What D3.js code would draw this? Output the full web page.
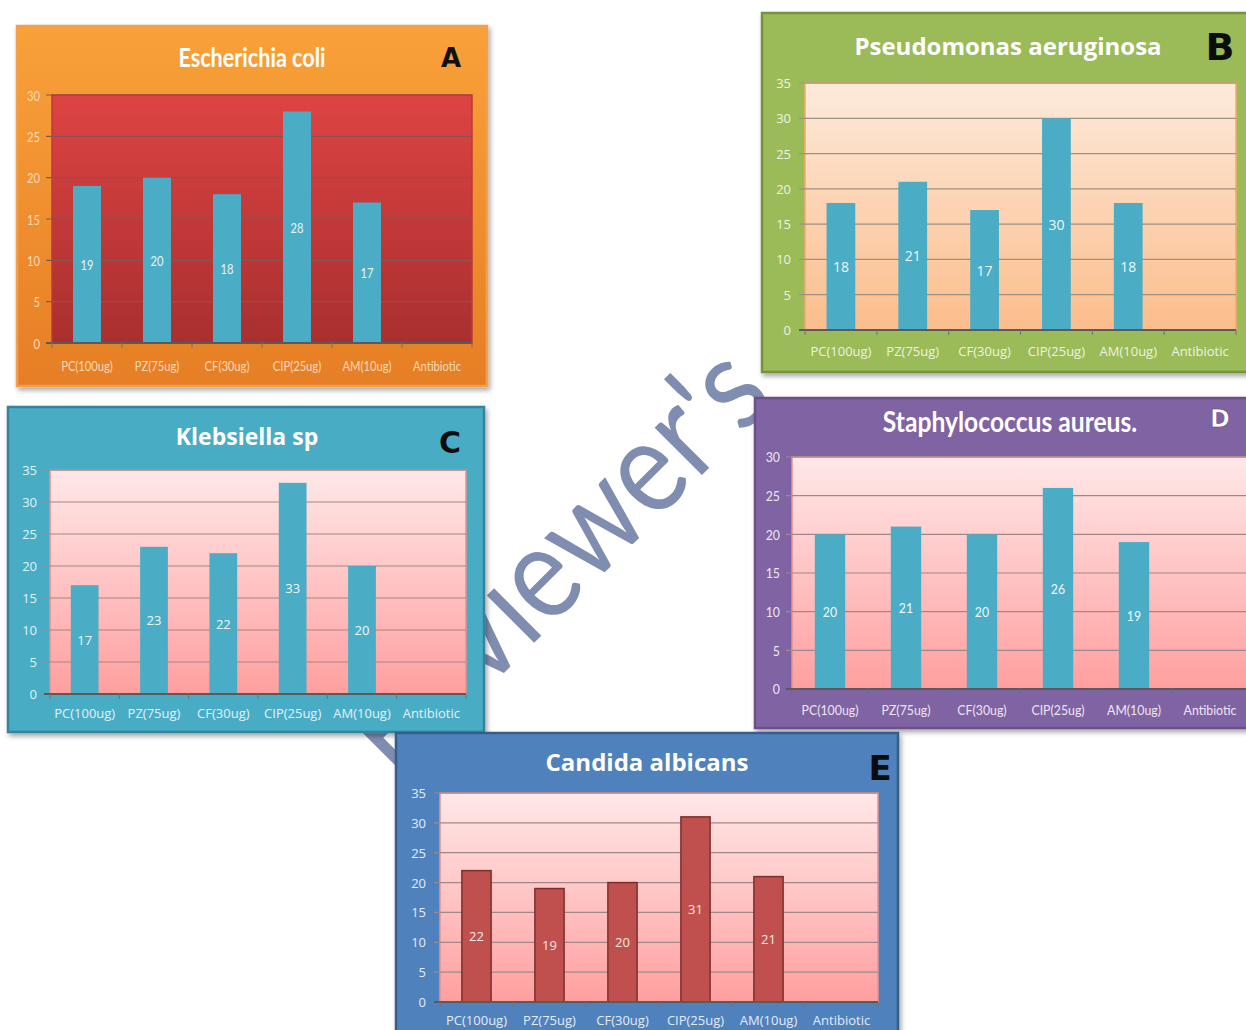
<!DOCTYPE html>
<html lang="en">
<head>
    <meta charset="UTF-8">
    <title>Antibiotic sensitivity</title>
    <script src="https://cdn.jsdelivr.net/npm/d3@7/dist/d3.min.js"></script>
    <style>
        body { margin: 0; background: #fff; }
    </style>
</head>
<body>
<script>
    // 数据
    var categories = ["PC(100ug)", "PZ(75ug)", "CF(30ug)", "CIP(25ug)", "AM(10ug)", "Antibiotic"];
    var ecoliValues = [19, 20, 18, 28, 17, null];
    var pseudoValues = [18, 21, 17, 30, 18, null];
    var klebValues = [17, 23, 22, 33, 20, null];
    var staphValues = [20, 21, 20, 26, 19, null];
    var candidaValues = [22, 19, 20, 31, 21, null];
    var ticks30 = [0, 5, 10, 15, 20, 25, 30];
    var ticks35 = [0, 5, 10, 15, 20, 25, 30, 35];
    var titles = ["Escherichia coli", "Pseudomonas aeruginosa", "Klebsiella sp", "Staphylococcus aureus.", "Candida albicans"];
    var letters = ["A", "B", "C", "D", "E"];

    var width = 1246;
    var height = 1030;
    var svg = d3.select("body")
        .append("svg")
        .attr("width", width)
        .attr("height", height)
        .style("font-family", "Lato, sans-serif");

    var defs = svg.append("defs");
    var shadow = defs.append("filter").attr("id", "shadow")
        .attr("x", "-5%").attr("y", "-5%").attr("width", "115%").attr("height", "115%");
    shadow.append("feDropShadow")
        .attr("dx", 2).attr("dy", 3).attr("stdDeviation", 2.5)
        .attr("flood-color", "#000").attr("flood-opacity", 0.35);

    function addGradient(id, top, bottom) {
        var g = defs.append("linearGradient").attr("id", id)
            .attr("x1", 0).attr("y1", 0).attr("x2", 0).attr("y2", 1);
        g.append("stop").attr("offset", "0%").attr("stop-color", top);
        g.append("stop").attr("offset", "100%").attr("stop-color", bottom);
    }
    addGradient("bgA", "#f9a139", "#e67e26");
    addGradient("plotA", "#de4343", "#a92f2f");
    addGradient("plotB", "#fdeadb", "#fbbd8c");
    addGradient("plotPink", "#ffe8e8", "#ff9f9f");

    // 水印 (drawn first, panels cover it)
    svg.append("text")
        .attr("transform", "translate(396,781) rotate(-45) scale(0.87,1)")
        .style("font-family", "Lato, sans-serif")
        .style("font-size", "132px")
        .style("fill", "#7f8db0")
        .text("Reviewer's");

    var sans = "'Open Sans', sans-serif";
    var narrow = "Lato, sans-serif";

    // 面板配置
    var panels = [
        { values: ecoliValues, ticks: ticks30, max: 30, title: titles[0], letter: letters[0],
          box: [17, 26, 470, 360], boxFill: "url(#bgA)", boxStroke: "#f0a050",
          plot: [52, 95, 420, 248], plotFill: "url(#plotA)", plotStroke: "#c03838",
          grid: "#8f5050", bar: "#4aacc5", barStroke: "none",
          labelColor: "#fcd9b6", valueColor: "#e8f4f8", sx: 0.8, font: narrow,
          titleX: 252, titleY: 57, titleSize: 27,
          letterX: 451, letterY: 58, letterSize: 26, letterColor: "#111",
          tickX: 40, catY: 365, fontSize: 14, valueSize: 14 },
        { values: pseudoValues, ticks: ticks35, max: 35, title: titles[1], letter: letters[1],
          box: [762, 13, 496, 359], boxFill: "#9bbb59", boxStroke: "#76923c",
          plot: [805, 83, 431, 247], plotFill: "url(#plotB)", plotStroke: "#f6a96b",
          grid: "#a09080", bar: "#4aacc5", barStroke: "none",
          labelColor: "#eef3e2", valueColor: "#eef8fb", sx: 1, font: sans,
          titleX: 1008, titleY: 45, titleSize: 24,
          letterX: 1220, letterY: 47, letterSize: 38, letterColor: "#0c0c0c",
          tickX: 791, catY: 351, fontSize: 13, valueSize: 14 },
        { values: klebValues, ticks: ticks35, max: 35, title: titles[2], letter: letters[2],
          box: [8, 407, 476, 325], boxFill: "#4aacc5", boxStroke: "#31859c",
          plot: [50, 470, 416, 224], plotFill: "url(#plotPink)", plotStroke: "#e89090",
          grid: "#a08888", bar: "#4aacc5", barStroke: "none",
          labelColor: "#e2f2f7", valueColor: "#eef8fb", sx: 1, font: sans,
          titleX: 247, titleY: 436, titleSize: 23,
          letterX: 450, letterY: 442, letterSize: 30, letterColor: "#0c0c0c",
          tickX: 37, catY: 713, fontSize: 13, valueSize: 13 },
        { values: staphValues, ticks: ticks30, max: 30, title: titles[3], letter: letters[3],
          box: [755, 398, 497, 330], boxFill: "#8064a2", boxStroke: "#6a5088",
          plot: [792, 457, 456, 232], plotFill: "url(#plotPink)", plotStroke: "#e89090",
          grid: "#a08888", bar: "#4aacc5", barStroke: "none",
          labelColor: "#ece6f3", valueColor: "#eef8fb", sx: 0.88, font: narrow,
          titleX: 1010, titleY: 421, titleSize: 28,
          letterX: 1220, letterY: 419, letterSize: 24, letterColor: "#fff",
          tickX: 780, catY: 710, fontSize: 14, valueSize: 14 },
        { values: candidaValues, ticks: ticks35, max: 35, title: titles[4], letter: letters[4],
          box: [396, 733, 502, 300], boxFill: "#4f81bd", boxStroke: "#385d8a",
          plot: [440, 793, 438, 209], plotFill: "url(#plotPink)", plotStroke: "#e89090",
          grid: "#a08888", bar: "#c0504d", barStroke: "#7d2e2c",
          labelColor: "#e4ecf6", valueColor: "#f4e8e8", sx: 1, font: sans,
          titleX: 647, titleY: 761, titleSize: 24,
          letterX: 880, letterY: 768, letterSize: 34, letterColor: "#0c0c0c",
          tickX: 426, catY: 1020, fontSize: 13, valueSize: 13 }
    ];

    // 水平压缩的文字
    function squeezeText(g, x, y, sx, str) {
        return g.append("text")
            .attr("transform", "translate(" + x + "," + y + ") scale(" + sx + ",1)")
            .attr("dominant-baseline", "central")
            .text(str);
    }

    function drawPanel(p) {
        var g = svg.append("g").style("font-family", p.font);
        g.append("rect")
            .attr("x", p.box[0]).attr("y", p.box[1])
            .attr("width", p.box[2]).attr("height", p.box[3])
            .style("fill", p.boxFill)
            .style("stroke", p.boxStroke)
            .style("stroke-width", 2.5)
            .attr("filter", "url(#shadow)");

        var px = p.plot[0], py = p.plot[1], pw = p.plot[2], ph = p.plot[3];

        var x = d3.scaleBand()
            .domain(categories)
            .range([px, px + pw])
            .paddingInner(0.6)
            .paddingOuter(0.3);
        var y = d3.scaleLinear()
            .domain([0, p.max])
            .range([py + ph, py]);

        g.append("rect")
            .attr("x", px).attr("y", py)
            .attr("width", pw).attr("height", ph)
            .style("fill", p.plotFill)
            .style("stroke", p.plotStroke)
            .style("stroke-width", 1.5);

        // 网格线
        g.append("g").selectAll("line")
            .data(p.ticks.slice(1))
            .enter()
            .append("line")
            .attr("x1", px - 6).attr("x2", px + pw)
            .attr("y1", function (d) { return y(d); })
            .attr("y2", function (d) { return y(d); })
            .style("stroke", p.grid)
            .style("stroke-width", 1.2);

        // 柱子
        var data = p.values.map(function (v, i) { return { c: categories[i], v: v }; })
            .filter(function (d) { return d.v !== null; });
        g.append("g").selectAll("rect")
            .data(data)
            .enter()
            .append("rect")
            .attr("x", function (d) { return x(d.c); })
            .attr("y", function (d) { return y(d.v); })
            .attr("width", x.bandwidth())
            .attr("height", function (d) { return y(0) - y(d.v); })
            .style("fill", p.bar)
            .style("stroke", p.barStroke)
            .style("stroke-width", 1.5);

        // 数值标签
        var vals = g.append("g")
            .style("fill", p.valueColor)
            .style("font-size", p.valueSize + "px")
            .attr("text-anchor", "middle");
        data.forEach(function (d) {
            squeezeText(vals, x(d.c) + x.bandwidth() / 2, y(d.v / 2), p.sx, d.v);
        });

        // x 轴
        g.append("line")
            .attr("x1", px - 6).attr("x2", px + pw)
            .attr("y1", y(0)).attr("y2", y(0))
            .style("stroke", "#5a5a5a")
            .style("stroke-width", 2);
        var step = x.step();
        g.append("g").selectAll("line")
            .data(d3.range(categories.length + 1))
            .enter()
            .append("line")
            .attr("x1", function (i) { return px + i * step; })
            .attr("x2", function (i) { return px + i * step; })
            .attr("y1", y(0)).attr("y2", y(0) + 5)
            .style("stroke", "#707070")
            .style("stroke-width", 1);

        var cats = g.append("g")
            .style("fill", p.labelColor)
            .style("font-size", p.fontSize + "px")
            .attr("text-anchor", "middle");
        categories.forEach(function (c) {
            squeezeText(cats, x(c) + x.bandwidth() / 2, p.catY, p.sx, c);
        });

        // y 轴刻度
        var ticksG = g.append("g")
            .style("fill", p.labelColor)
            .style("font-size", p.fontSize + "px")
            .attr("text-anchor", "end");
        p.ticks.forEach(function (t) {
            squeezeText(ticksG, p.tickX, y(t), p.sx, t);
        });

        // 标题
        squeezeText(g, p.titleX, p.titleY, p.sx, p.title)
            .attr("text-anchor", "middle")
            .style("fill", "#fff")
            .style("font-size", p.titleSize + "px")
            .style("font-weight", 700);

        squeezeText(g, p.letterX, p.letterY, 1, p.letter)
            .attr("text-anchor", "middle")
            .style("font-family", "'DejaVu Sans', sans-serif")
            .style("font-weight", 700)
            .style("font-size", p.letterSize + "px")
            .style("fill", p.letterColor)
            .style("stroke", p.letterColor === "#fff" ? "#5a4080" : "none")
            .style("stroke-width", 0.6);
    }

    panels.forEach(drawPanel);
</script>
</body>
</html>
